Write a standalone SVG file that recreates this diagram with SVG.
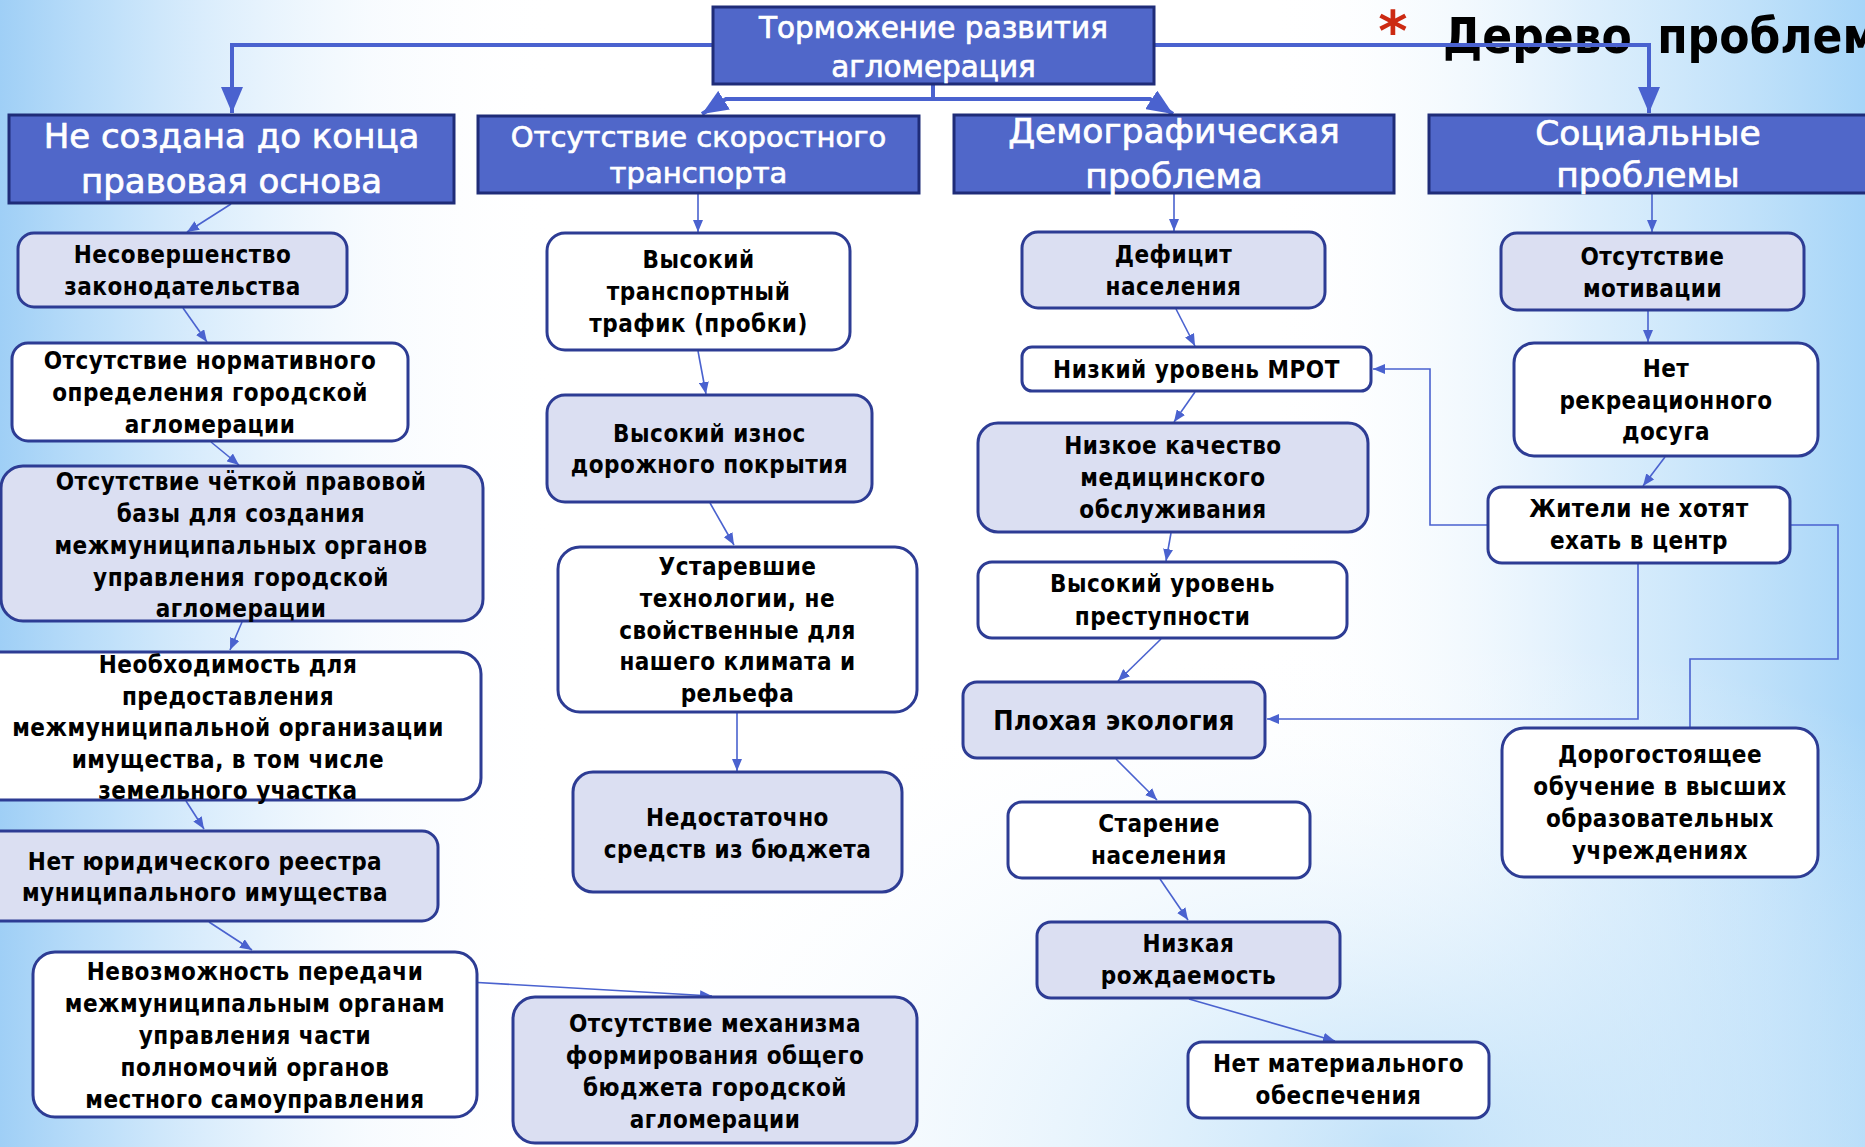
<svg xmlns="http://www.w3.org/2000/svg" width="1865" height="1147" viewBox="0 0 1865 1147">
<defs>
<linearGradient id="bgL" x1="0" y1="0" x2="1" y2="0">
<stop offset="0" stop-color="#9fcff6" stop-opacity="1"/>
<stop offset="0.06" stop-color="#b5dbf9" stop-opacity="0.85"/>
<stop offset="0.2" stop-color="#e6f2fd" stop-opacity="0.3"/>
<stop offset="0.3" stop-color="#ffffff" stop-opacity="0"/>
</linearGradient>
<linearGradient id="bgR" x1="0" y1="0" x2="1" y2="0">
<stop offset="0.68" stop-color="#ffffff" stop-opacity="0"/>
<stop offset="0.85" stop-color="#cfe8fb" stop-opacity="0.7"/>
<stop offset="1" stop-color="#a6d5f8" stop-opacity="1"/>
</linearGradient>
<radialGradient id="bgB" cx="0.75" cy="1" r="0.45">
<stop offset="0" stop-color="#b3dbf8" stop-opacity="0.8"/>
<stop offset="1" stop-color="#ffffff" stop-opacity="0"/>
</radialGradient>
<marker id="ah" markerUnits="userSpaceOnUse" markerWidth="12" markerHeight="10" refX="12" refY="5" orient="auto">
<path d="M0,0 L12,5 L0,10 z" fill="#4a62cf"/>
</marker>
<marker id="AH" markerUnits="userSpaceOnUse" markerWidth="26" markerHeight="22" refX="26" refY="11" orient="auto">
<path d="M0,0 L26,11 L0,22 z" fill="#4a62cf"/>
</marker>
<style>
.hdr{fill:#5067c9;stroke:#1f2c78;stroke-width:3}
.nl{fill:#dbdff2;stroke:#2d3c94;stroke-width:3}
.nw{fill:#ffffff;stroke:#2d3c94;stroke-width:3}
.t{font-family:"DejaVu Sans Condensed","DejaVu Sans",sans-serif;font-stretch:condensed;font-weight:bold;font-size:24px;letter-spacing:0.5px;fill:#000;text-anchor:middle}
.ht{font-family:"DejaVu Sans","Liberation Sans",sans-serif;fill:#fff;stroke:#fff;stroke-width:0.7px;text-anchor:middle}
.c{stroke:#4a62cf;fill:none;stroke-width:1.6}
.C{stroke:#4a62cf;fill:none;stroke-width:4}
</style>
</defs>
<rect x="0" y="0" width="1865" height="1147" fill="#ffffff"/>
<rect x="0" y="0" width="1865" height="1147" fill="url(#bgL)"/>
<rect x="0" y="0" width="1865" height="1147" fill="url(#bgR)"/>
<rect x="0" y="0" width="1865" height="1147" fill="url(#bgB)"/>

<text x="1393" y="50" font-family="DejaVu Sans,sans-serif" font-size="56" font-weight="bold" fill="#cc2a12" text-anchor="middle">*</text>
<text x="1443" y="53" font-family="DejaVu Sans Condensed,DejaVu Sans,sans-serif" font-stretch="condensed" font-weight="bold" font-size="49" word-spacing="10" fill="#000">Дерево проблем</text>

<g id="connectors">
<path class="C" d="M713,45 H232 V113" marker-end="url(#AH)"/>
<path class="C" d="M933,84 V99 H726 L702,114" marker-end="url(#AH)"/>
<path class="C" d="M933,99 H1150 L1173,114" marker-end="url(#AH)"/>
<path class="C" d="M1154,45 H1649 V113" marker-end="url(#AH)"/>

<path class="c" d="M231,204 L187,232" marker-end="url(#ah)"/>
<path class="c" d="M183,308 L207,342" marker-end="url(#ah)"/>
<path class="c" d="M211,442 L239,465" marker-end="url(#ah)"/>
<path class="c" d="M242,622 L230,650" marker-end="url(#ah)"/>
<path class="c" d="M186,801 L204,829" marker-end="url(#ah)"/>
<path class="c" d="M209,922 L252,950" marker-end="url(#ah)"/>
<path class="c" d="M469,982 L712,996" marker-end="url(#ah)"/>

<path class="c" d="M698,193 V232" marker-end="url(#ah)"/>
<path class="c" d="M698,351 L706,394" marker-end="url(#ah)"/>
<path class="c" d="M710,503 L734,545" marker-end="url(#ah)"/>
<path class="c" d="M737,713 V771" marker-end="url(#ah)"/>

<path class="c" d="M1174,193 V231" marker-end="url(#ah)"/>
<path class="c" d="M1176,309 L1195,346" marker-end="url(#ah)"/>
<path class="c" d="M1195,392 L1174,422" marker-end="url(#ah)"/>
<path class="c" d="M1171,533 L1166,561" marker-end="url(#ah)"/>
<path class="c" d="M1161,639 L1118,681" marker-end="url(#ah)"/>
<path class="c" d="M1116,759 L1157,800" marker-end="url(#ah)"/>
<path class="c" d="M1160,879 L1188,920" marker-end="url(#ah)"/>
<path class="c" d="M1189,999 L1335,1041" marker-end="url(#ah)"/>

<path class="c" d="M1652,193 V232" marker-end="url(#ah)"/>
<path class="c" d="M1648,311 V342" marker-end="url(#ah)"/>
<path class="c" d="M1665,457 L1643,486" marker-end="url(#ah)"/>
<path class="c" d="M1488,525 H1430 V369 H1373" marker-end="url(#ah)"/>
<path class="c" d="M1790,525 H1838 V659 H1690 V727"/>
<path class="c" d="M1638,564 V719 H1267" marker-end="url(#ah)"/>
</g>

<g id="root">
<rect class="hdr" x="713" y="7" width="441" height="77"/>
<text class="ht" font-size="29.5" x="933.5" y="38">Торможение развития</text>
<text class="ht" font-size="29.5" x="933.5" y="77">агломерация</text>
</g>

<g id="h1">
<rect class="hdr" x="9" y="115" width="445" height="88"/>
<text class="ht" font-size="34" x="231.5" y="148">Не создана до конца</text>
<text class="ht" font-size="34" x="231.5" y="193">правовая основа</text>
</g>
<g id="h2">
<rect class="hdr" x="478" y="116" width="441" height="77"/>
<text class="ht" font-size="29" x="698.5" y="147">Отсутствие скоростного</text>
<text class="ht" font-size="29" x="698.5" y="183">транспорта</text>
</g>
<g id="h3">
<rect class="hdr" x="954" y="115" width="440" height="78"/>
<text class="ht" font-size="34.5" x="1174" y="143">Демографическая</text>
<text class="ht" font-size="34.5" x="1174" y="188">проблема</text>
</g>
<g id="h4">
<rect class="hdr" x="1429" y="115" width="441" height="78"/>
<text class="ht" font-size="34.5" x="1648" y="145">Социальные</text>
<text class="ht" font-size="34.5" x="1648" y="187">проблемы</text>
</g>

<g id="n-a">
<rect class="nl" x="18" y="233" width="329" height="74" rx="16"/>
<text class="t" x="182.5" y="263">Несовершенство</text>
<text class="t" x="182.5" y="295">законодательства</text>
</g>
<g id="n-b">
<rect class="nw" x="12" y="343" width="396" height="98" rx="16"/>
<text class="t" x="210" y="369">Отсутствие нормативного</text>
<text class="t" x="210" y="401">определения городской</text>
<text class="t" x="210" y="433">агломерации</text>
</g>
<g id="n-c">
<rect class="nl" x="1" y="466" width="482" height="155" rx="22"/>
<text class="t" x="241" y="490">Отсутствие чёткой правовой</text>
<text class="t" x="241" y="522">базы для создания</text>
<text class="t" x="241" y="554">межмуниципальных органов</text>
<text class="t" x="241" y="586">управления городской</text>
<text class="t" x="241" y="617">агломерации</text>
</g>
<g id="n-d">
<rect class="nw" x="-25" y="652" width="506" height="148" rx="22"/>
<text class="t" x="228" y="673">Необходимость для</text>
<text class="t" x="228" y="705">предоставления</text>
<text class="t" x="228" y="736">межмуниципальной организации</text>
<text class="t" x="228" y="768">имущества, в том числе</text>
<text class="t" x="228" y="799">земельного участка</text>
</g>
<g id="n-e">
<rect class="nl" x="-28" y="831" width="466" height="90" rx="16"/>
<text class="t" x="205" y="870">Нет юридического реестра</text>
<text class="t" x="205" y="901">муниципального имущества</text>
</g>
<g id="n-f">
<rect class="nw" x="33" y="952" width="444" height="165" rx="22"/>
<text class="t" x="255" y="980">Невозможность передачи</text>
<text class="t" x="255" y="1012">межмуниципальным органам</text>
<text class="t" x="255" y="1044">управления части</text>
<text class="t" x="255" y="1076">полномочий органов</text>
<text class="t" x="255" y="1108">местного самоуправления</text>
</g>

<g id="n-g">
<rect class="nw" x="547" y="233" width="303" height="117" rx="18"/>
<text class="t" x="698.5" y="268">Высокий</text>
<text class="t" x="698.5" y="300">транспортный</text>
<text class="t" x="698.5" y="332">трафик (пробки)</text>
</g>
<g id="n-h">
<rect class="nl" x="547" y="395" width="325" height="107" rx="18"/>
<text class="t" x="709.5" y="442">Высокий износ</text>
<text class="t" x="709.5" y="473">дорожного покрытия</text>
</g>
<g id="n-i">
<rect class="nw" x="558" y="547" width="359" height="165" rx="22"/>
<text class="t" x="737.5" y="575">Устаревшие</text>
<text class="t" x="737.5" y="607">технологии, не</text>
<text class="t" x="737.5" y="639">свойственные для</text>
<text class="t" x="737.5" y="670">нашего климата и</text>
<text class="t" x="737.5" y="702">рельефа</text>
</g>
<g id="n-j">
<rect class="nl" x="573" y="772" width="329" height="120" rx="20"/>
<text class="t" x="737.5" y="826">Недостаточно</text>
<text class="t" x="737.5" y="858">средств из бюджета</text>
</g>
<g id="n-k">
<rect class="nl" x="513" y="997" width="404" height="146" rx="22"/>
<text class="t" x="715" y="1032">Отсутствие механизма</text>
<text class="t" x="715" y="1064">формирования общего</text>
<text class="t" x="715" y="1096">бюджета городской</text>
<text class="t" x="715" y="1128">агломерации</text>
</g>

<g id="n-l">
<rect class="nl" x="1022" y="232" width="303" height="76" rx="16"/>
<text class="t" x="1173.5" y="263">Дефицит</text>
<text class="t" x="1173.5" y="295">населения</text>
</g>
<g id="n-m">
<rect class="nw" x="1022" y="347" width="349" height="44" rx="10"/>
<text class="t" x="1196.5" y="378">Низкий уровень МРОТ</text>
</g>
<g id="n-n">
<rect class="nl" x="978" y="423" width="390" height="109" rx="20"/>
<text class="t" x="1173" y="454">Низкое качество</text>
<text class="t" x="1173" y="486">медицинского</text>
<text class="t" x="1173" y="518">обслуживания</text>
</g>
<g id="n-o">
<rect class="nw" x="978" y="562" width="369" height="76" rx="14"/>
<text class="t" x="1162.5" y="592">Высокий уровень</text>
<text class="t" x="1162.5" y="625">преступности</text>
</g>
<g id="n-p">
<rect class="nl" x="963" y="682" width="302" height="76" rx="14"/>
<text class="t" x="1114" y="730" style="font-size:27px;letter-spacing:0.2px">Плохая экология</text>
</g>
<g id="n-q">
<rect class="nw" x="1008" y="802" width="302" height="76" rx="14"/>
<text class="t" x="1159" y="832">Старение</text>
<text class="t" x="1159" y="864">населения</text>
</g>
<g id="n-r">
<rect class="nl" x="1037" y="922" width="303" height="76" rx="14"/>
<text class="t" x="1188.5" y="952">Низкая</text>
<text class="t" x="1188.5" y="984">рождаемость</text>
</g>
<g id="n-s">
<rect class="nw" x="1188" y="1042" width="301" height="76" rx="14"/>
<text class="t" x="1338.5" y="1072">Нет материального</text>
<text class="t" x="1338.5" y="1104">обеспечения</text>
</g>

<g id="n-t">
<rect class="nl" x="1501" y="233" width="303" height="77" rx="16"/>
<text class="t" x="1652.5" y="265">Отсутствие</text>
<text class="t" x="1652.5" y="297">мотивации</text>
</g>
<g id="n-u">
<rect class="nw" x="1514" y="343" width="304" height="113" rx="20"/>
<text class="t" x="1666" y="377">Нет</text>
<text class="t" x="1666" y="409">рекреационного</text>
<text class="t" x="1666" y="440">досуга</text>
</g>
<g id="n-v">
<rect class="nw" x="1488" y="487" width="302" height="76" rx="14"/>
<text class="t" x="1639" y="517">Жители не хотят</text>
<text class="t" x="1639" y="549">ехать в центр</text>
</g>
<g id="n-w">
<rect class="nw" x="1502" y="728" width="316" height="149" rx="22"/>
<text class="t" x="1660" y="763">Дорогостоящее</text>
<text class="t" x="1660" y="795">обучение в высших</text>
<text class="t" x="1660" y="827">образовательных</text>
<text class="t" x="1660" y="859">учреждениях</text>
</g>
</svg>
